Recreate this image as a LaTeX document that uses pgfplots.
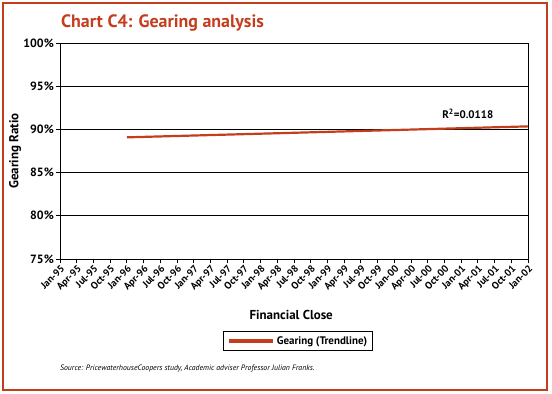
\documentclass[border=0pt]{standalone}
\usepackage{pgfplots}
\pgfplotsset{compat=1.18}
\usepackage{fontspec}
\setmainfont{PT Sans}
\definecolor{brick}{RGB}{196,62,30}
\begin{document}
\begin{tikzpicture}
\path[use as bounding box] (0bp,0bp) rectangle (552bp,394bp);
\draw[brick, line width=1.2bp] (3bp,4bp) rectangle (547bp,391bp);
\node[anchor=base west, text=brick, font=\fontsize{18}{20}\selectfont\bfseries, inner sep=0pt] at (61bp,366bp) {Chart C4: Gearing analysis};
\node[anchor=base west, font=\fontsize{7.8}{9}\selectfont\itshape, inner sep=0pt] at (60bp,24bp) {Source: PricewaterhouseCoopers study, Academic adviser Professor Julian Franks.};
\begin{axis}[
  at={(60bp,135bp)}, anchor=south west, scale only axis,
  width=468bp, height=216bp,
  xmin=0, xmax=28, ymin=75, ymax=100,
  xtick={0,...,28},
  xticklabels={Jan-95,Apr-95,Jul-95,Oct-95,Jan-96,Apr-96,Jul-96,Oct-96,Jan-97,Apr-97,Jul-97,Oct-97,Jan-98,Apr-98,Jul-98,Oct-98,Jan-99,Apr-99,Jul-99,Oct-99,Jan-00,Apr-00,Jul-00,Oct-00,Jan-01,Apr-01,Jul-01,Oct-01,Jan-02},
  x tick label style={rotate=45, anchor=north east, font=\fontsize{10}{11}\selectfont\bfseries, inner sep=0.5pt},
  ytick={75,80,85,90,95,100},
  yticklabel={\pgfmathprintnumber{\tick}\%},
  y tick label style={font=\fontsize{12}{13}\selectfont\bfseries, inner sep=1.5pt},
  /pgf/number format/assume math mode=true,
  ymajorgrids, grid style={black, line width=0.9bp},
  axis line style={black, line width=0.9bp},
  tick style={black, line width=0.9bp},
  tick align=outside, major tick length=4.5bp,
  xtick pos=bottom, ytick pos=left,
  xlabel={Financial Close},
  xlabel style={at={(axis description cs:0.494,-0.259)}, anchor=center, font=\fontsize{13}{14}\selectfont\bfseries},
  ylabel={Gearing Ratio},
  ylabel style={at={(axis description cs:-0.096,0.5)}, anchor=center, rotate=0, font=\fontsize{13}{14}\selectfont\bfseries},
  legend style={at={(axis description cs:0.5085,-0.38)}, anchor=center, draw=black, line width=0.9bp, font=\fontsize{11}{12}\selectfont\bfseries, inner xsep=3bp, inner ysep=2.5bp},
  legend image code/.code={\draw[#1, line width=4bp] (0bp,0bp) -- (44bp,0bp);},
]
\addplot[brick, line width=2.2bp] coordinates {(4,89.08) (28,90.35)};
\addlegendentry{Gearing (Trendline)}
\node[font=\fontsize{11}{12}\selectfont\bfseries] at (axis cs:24.4,91.85) {R\textsuperscript{2}=0.0118};
\end{axis}
\end{tikzpicture}
\end{document}
